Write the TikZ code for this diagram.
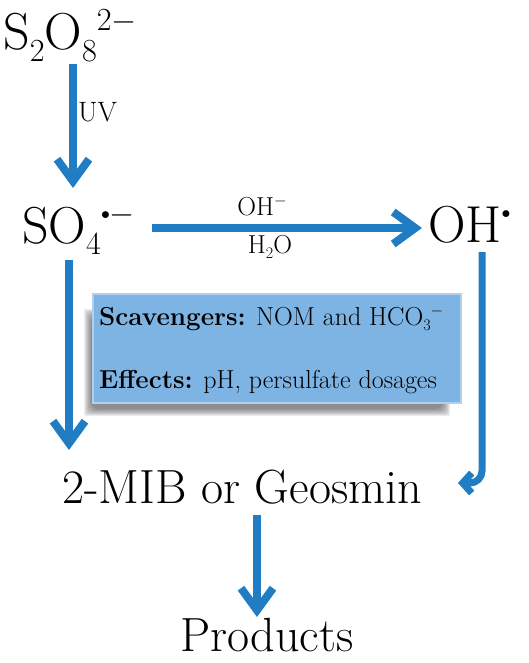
\RequirePackage{fix-cm}
\documentclass[tikz,border=0pt]{standalone}
\usetikzlibrary{arrows.meta}
\definecolor{flowblue}{RGB}{32,125,195}
\definecolor{boxblue}{RGB}{126,180,228}
\definecolor{boxedge}{RGB}{175,208,238}
\newcommand{\fsz}[1]{\fontsize{#1}{#1}\selectfont}
\newcommand{\chlo}[1]{\raisebox{-0.22em}{\scalebox{0.62}{#1}}}
\newcommand{\chhi}[1]{\raisebox{0.37em}{\scalebox{0.62}{#1}}}
\newcommand{\mns}{$-$}
\newcommand{\rad}{\raisebox{0.12em}{\scalebox{0.55}{$\bullet$}}}
\begin{document}
\begin{tikzpicture}[x=1pt,y=-1pt,
  flow/.style={draw=flowblue,line width=8,-{Straight Barb[length=22,width=32]}},
  chem/.style={anchor=base west,inner sep=0,font=\fsz{52}},
  label/.style={anchor=base,inner sep=0,font=\fsz{26}}]
\useasboundingbox (0,0) rectangle (529,663);
\node[chem] (s2o8) at (3,50) {S\chlo{2}O\chlo{8}\chhi{2\mns}};
\node[chem] (so4) at (22,243) {SO\chlo{4}\chhi{\rad\mns}};
\node[chem] (oh) at (428,242) {OH\chhi{\rad}};
\node[anchor=base west,inner sep=0,font=\fsz{28}] (uv) at (78,122) {UV};
\node[label] (ohm) at (262,215) {OH\chhi{\mns}};
\node[label] (h2o) at (270,253) {H\chlo{2}O};
\foreach \i in {1,...,8}
  \fill[black,opacity=0.07,rounded corners=\i] (83+\i,308+\i) rectangle (451-\i,417-\i);
\node[draw=boxedge,fill=boxblue,line width=1.5,anchor=north west,inner sep=0,
  minimum width=368,minimum height=109] (scav) at (92,293) {};
\node[anchor=base west,inner sep=0,font=\fsz{26}] (scavtxt) at (99,325)
  {\textbf{Scavengers:} NOM and HCO\chlo{3}\chhi{\mns}};
\node[anchor=base west,inner sep=0,font=\fsz{26}] (efftxt) at (99,388)
  {\textbf{Effects:} pH, persulfate dosages};
\node[anchor=base west,inner sep=0,font=\fsz{48}] (mib) at (62,503) {2-MIB or Geosmin};
\node[anchor=base west,inner sep=0,font=\fsz{48}] (prod) at (180,651) {Products};
\coordinate (uvtop) at (73,64);
\coordinate (uvend) at (73,188);
\coordinate (so4down) at (69,260);
\coordinate (mibin) at (69,450);
\coordinate (so4out) at (152,228);
\coordinate (ohin) at (422,228);
\coordinate (ohdown) at (482,252);
\coordinate (mibright) at (458,483);
\coordinate (mibdown) at (257,515);
\coordinate (prodin) at (257,617);
\draw[flow] (uvtop) -- (uvend);
\draw[flow] (so4down) -- (mibin);
\draw[flow] (so4out) -- (ohin);
\draw[flow,line width=7,rounded corners=12,-{Straight Barb[length=9,width=20]}] (ohdown) |- (mibright);
\draw[flow] (mibdown) -- (prodin);
\end{tikzpicture}
\end{document}
